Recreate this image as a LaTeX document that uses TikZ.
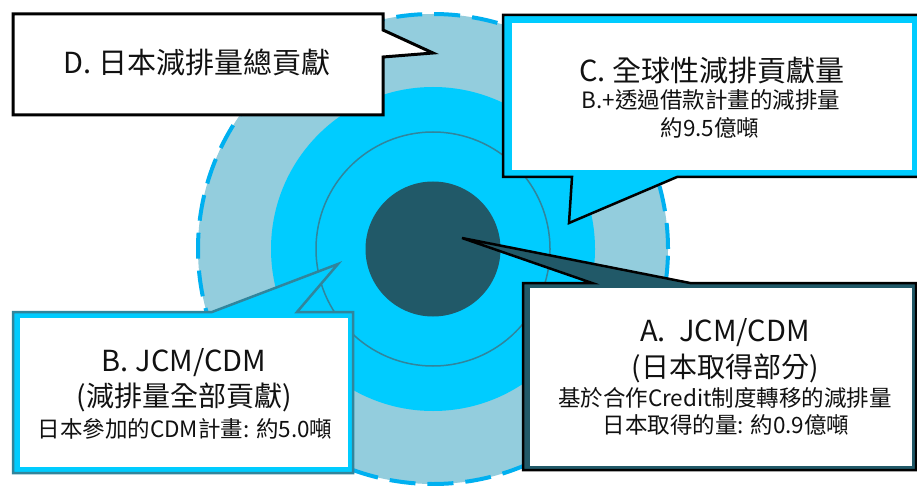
\documentclass[tikz,border=0pt]{standalone}
\usepackage{fontspec}
\setmainfont{Noto Sans CJK TC}
\definecolor{outerblue}{HTML}{93CDDD}
\definecolor{cyanring}{HTML}{00CCFF}
\definecolor{dashcol}{HTML}{00B0F0}
\definecolor{tealline}{HTML}{31859C}
\definecolor{darkteal}{HTML}{215968}
\definecolor{txt}{HTML}{111111}
\begin{document}
\begin{tikzpicture}[x=1pt,y=-1pt,
  bigtxt/.style={inner sep=0pt, text=txt, font=\fontsize{29}{31}\selectfont},
  midtxt/.style={inner sep=0pt, text=txt, font=\fontsize{28}{30}\selectfont},
  smalltxt/.style={inner sep=0pt, text=txt, font=\fontsize{22.5}{24}\selectfont},
  boxline/.style={line width=2.5pt, line join=miter}
]
\useasboundingbox (0,0) rectangle (917,486);
\clip (0,0) rectangle (917,486);
\fill[white] (0,0) rectangle (917,486);

% concentric circles
\coordinate (ctr) at (433,249);
\fill[outerblue] (ctr) circle[radius=235pt];
\draw[dashcol, line width=4pt, dash pattern=on 26pt off 12pt] (ctr) circle[radius=235pt];
\fill[cyanring] (ctr) circle[radius=162pt];
\draw[tealline, line width=1.5pt] (ctr) circle[radius=117pt];
\fill[darkteal] (ctr) circle[radius=67.5pt];

% B callout
\draw[boxline, tealline, fill=cyanring] (13,312) -- (212,312) -- (338,264) -- (297,312) -- (353,312) -- (353,473) -- (13,473) -- cycle;
\fill[white] (20,318) rectangle (348,467);

% A callout
\draw[boxline, black, fill=darkteal] (523,283) -- (592,283) -- (462,238) -- (690,283) -- (916,283) -- (916,470) -- (523,470) -- cycle;
\fill[white] (530,288) rectangle (912,466);

% C callout
\draw[boxline, black, fill=cyanring] (503,15) -- (922,15) -- (922,177) -- (677,177) -- (569,223) -- (572,177) -- (503,177) -- cycle;
\fill[white] (512,23) rectangle (912,170);

% D callout
\draw[line width=3pt, line join=miter, black, fill=white] (13,14) -- (383,14) -- (383,30) -- (433,53) -- (383,57) -- (383,115) -- (13,115) -- cycle;

% texts
\node[bigtxt] (d1) at (197,62) {D. 日本減排量總貢獻};

\node[bigtxt] (c1) at (712,71) {C. 全球性減排貢獻量};
\node[smalltxt] (c2) at (711,100) {B.+透過借款計畫的減排量};
\node[smalltxt] (c3) at (710,128) {約9.5億噸};

\node[bigtxt] (b1) at (184,363) {B. JCM/CDM};
\node[midtxt] (b2) at (184,397) {(減排量全部貢獻)};
\node[smalltxt] (b3) at (185,429) {日本參加的CDM計畫: 約5.0噸};

\node[bigtxt] (a1) at (725,333) {A.\ \ JCM/CDM};
\node[midtxt] (a2) at (725,368) {(日本取得部分)};
\node[smalltxt] (a3) at (725,398) {基於合作Credit制度轉移的減排量};
\node[smalltxt] (a4) at (726,425) {日本取得的量: 約0.9億噸};
\end{tikzpicture}
\end{document}
